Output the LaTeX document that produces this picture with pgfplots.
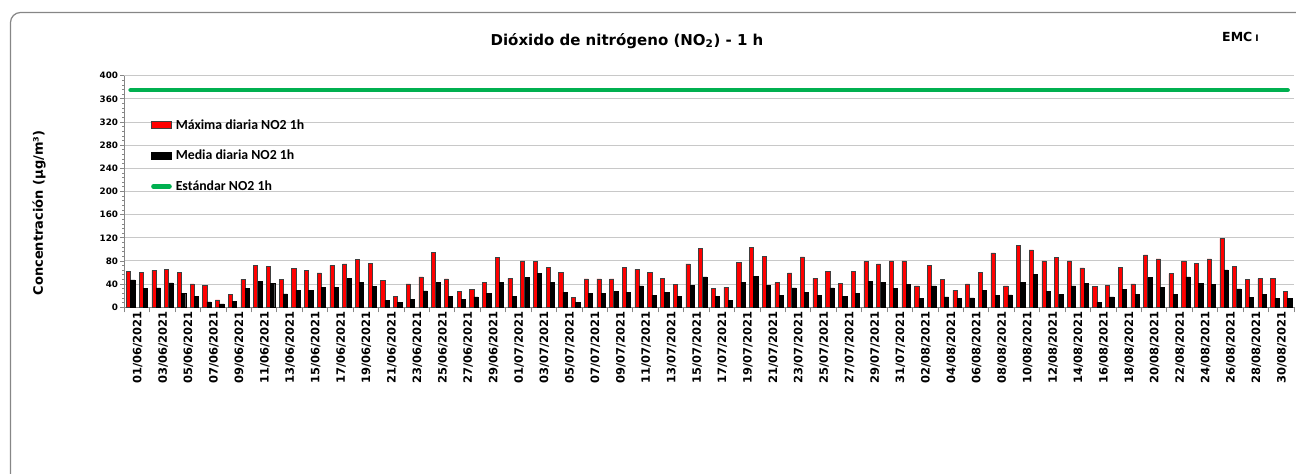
\documentclass[border=0pt]{standalone}
\usepackage{fontspec}
\usepackage{pgfplots}
\usepackage{pgfplotstable}
\pgfplotsset{compat=1.18}
\setmainfont{DejaVu Sans}
\newfontfamily\legfont{Carlito}
\definecolor{barred}{RGB}{255,0,0}
\definecolor{stdgreen}{RGB}{0,176,80}
\definecolor{gridgray}{RGB}{200,200,200}
\definecolor{axgray}{RGB}{134,134,134}
\pgfplotsset{
  barleg/.style={legend image code/.code={\draw[##1] (0bp,-3.6bp) rectangle (20bp,3.6bp);}},
  lineleg/.style={legend image code/.code={\draw[##1] (2bp,0bp) -- (18bp,0bp);}},
}

% dia (0 = 01/06/2021), maxima y media diaria NO2 1h
\pgfplotstableread{
x maxv meanv
0 62.7 47.2
1 60.4 32.2
2 63.9 33.4
3 65.6 42.0
4 60.4 23.6
5 40.3 19.0
6 38.0 9.2
7 12.7 5.8
8 22.4 10.4
9 48.3 32.8
10 72.5 44.9
11 70.8 41.4
12 48.3 23.0
13 66.8 29.4
14 63.3 29.4
15 59.3 34.5
16 72.5 34.5
17 74.8 49.5
18 82.3 43.7
19 76.0 35.7
20 46.6 11.5
21 19.0 8.1
22 40.3 13.8
23 52.4 28.2
24 95.0 42.6
25 48.9 19.0
26 27.0 13.8
27 30.5 17.8
28 43.2 24.7
29 86.3 43.7
30 50.0 19.0
31 80.0 51.2
32 78.8 58.1
33 69.0 42.6
34 60.4 25.9
35 17.3 8.1
36 48.9 24.7
37 48.9 24.7
38 48.9 27.0
39 69.0 25.9
40 65.6 36.8
41 60.4 20.7
42 50.0 25.9
43 39.1 18.4
44 74.8 38.0
45 102.4 52.4
46 32.2 18.4
47 34.5 11.5
48 77.1 43.7
49 103.6 53.5
50 88.1 38.0
51 42.6 20.7
52 59.3 33.4
53 86.9 25.9
54 50.0 20.7
55 62.2 33.4
56 41.4 18.4
57 61.6 23.6
58 79.4 44.9
59 74.8 43.7
60 80.0 32.8
61 80.0 39.1
62 36.8 15.0
63 72.5 36.8
64 48.3 17.8
65 29.4 15.0
66 40.3 16.1
67 60.4 29.4
68 93.8 20.7
69 36.8 21.3
70 107.0 43.7
71 99.0 57.0
72 80.0 27.0
73 85.8 22.4
74 80.0 36.8
75 67.9 41.4
76 36.3 8.1
77 38.0 17.8
78 69.0 30.5
79 40.3 22.4
80 90.4 51.2
81 83.5 34.5
82 58.1 22.4
83 80.0 52.4
84 76.0 41.4
85 83.5 39.1
86 119.1 64.5
87 70.2 31.7
88 48.3 17.3
89 49.5 22.4
90 50.0 15.0
91 27.0 15.0
}\datatable

\begin{document}
\begin{tikzpicture}
\useasboundingbox (0,0) rectangle (1296bp,-474bp);
\begin{scope}
  \clip (0,0) rectangle (1296bp,-474bp);
  \draw[axgray, line width=1.2bp, rounded corners=10bp] (10.5bp,-12.5bp) rectangle (1330bp,-520bp);
\end{scope}

\node[anchor=base, font=\bfseries\fontsize{15bp}{16bp}\selectfont] at (627bp,-45bp)
  {Dióxido de nitrógeno (NO\textsubscript{2}) - 1 h};
\node[anchor=base west, font=\bfseries\fontsize{12.5bp}{14bp}\selectfont, inner sep=0pt] at (1222bp,-41.7bp)
  {EMC\hspace{3bp}{\fontsize{9bp}{10bp}\selectfont I}};
\node[rotate=90, font=\bfseries\fontsize{13bp}{14bp}\selectfont] at (39bp,-213bp)
  {Concentración (µg/m³)};

\begin{axis}[
    at={(124.3bp,-307.3bp)}, anchor=south west,
    scale only axis,
    width=1169.7bp, height=231.6bp,
    xmin=-0.5, xmax=91.5,
    ymin=0, ymax=400,
    axis lines*=left,
    axis line style={draw=axgray, line width=1bp},
    ytick={0,40,...,400},
    minor y tick num=4,
    ymajorgrids,
    major grid style={draw=gridgray, line width=1bp},
    tick align=outside,
    major tick length=4bp,
    minor tick length=2.2bp,
    ytick style={draw=axgray, line width=0.8bp},
    /pgf/number format/assume math mode=true,
    yticklabel style={font=\bfseries\fontsize{8.8bp}{10bp}\selectfont, inner sep=2bp},
    xtick={0,2,...,90},
    xticklabels={01/06/2021,03/06/2021,05/06/2021,07/06/2021,09/06/2021,11/06/2021,13/06/2021,15/06/2021,17/06/2021,19/06/2021,21/06/2021,23/06/2021,25/06/2021,27/06/2021,29/06/2021,01/07/2021,03/07/2021,05/07/2021,07/07/2021,09/07/2021,11/07/2021,13/07/2021,15/07/2021,17/07/2021,19/07/2021,21/07/2021,23/07/2021,25/07/2021,27/07/2021,29/07/2021,31/07/2021,02/08/2021,04/08/2021,06/08/2021,08/08/2021,10/08/2021,12/08/2021,14/08/2021,16/08/2021,18/08/2021,20/08/2021,22/08/2021,24/08/2021,26/08/2021,28/08/2021,30/08/2021},
    xtick style={draw=none},
    xticklabel style={rotate=90, anchor=east, font=\bfseries\fontsize{11.5bp}{12bp}\selectfont, inner sep=0pt, yshift=-7bp},
    extra x ticks={-0.5,1.5,...,91.5},
    extra x tick labels={},
    extra x tick style={grid=none, xtick style={draw=axgray, line width=0.8bp}, major tick length=5bp},
    legend style={
        at={(0.0228,0.816)}, anchor=north west,
        draw=none, fill=none,
        font=\legfont\bfseries\fontsize{13.8bp}{15bp}\selectfont,
        row sep=17.5bp, inner sep=0pt,
        nodes={inner sep=1bp},
        /tikz/every odd column/.append style={column sep=3bp},
    },
    legend cell align=left,
]
\addplot[ybar, bar width=4.2bp, bar shift=-2.1bp, fill=barred, draw=black!75, line width=0.6bp, barleg]
    table[x=x, y=maxv] {\datatable};
\addlegendentry{Máxima diaria NO2 1h}
\addplot[ybar, bar width=4.2bp, bar shift=2.1bp, fill=black, draw=black, line width=0.4bp, barleg]
    table[x=x, y=meanv] {\datatable};
\addlegendentry{Media diaria NO2 1h}
\addplot[sharp plot, no marks, stdgreen, line width=4.6bp, line cap=round, lineleg]
    coordinates {(0,375) (91,375)};
\addlegendentry{Estándar NO2 1h}
\end{axis}
\end{tikzpicture}
\end{document}
